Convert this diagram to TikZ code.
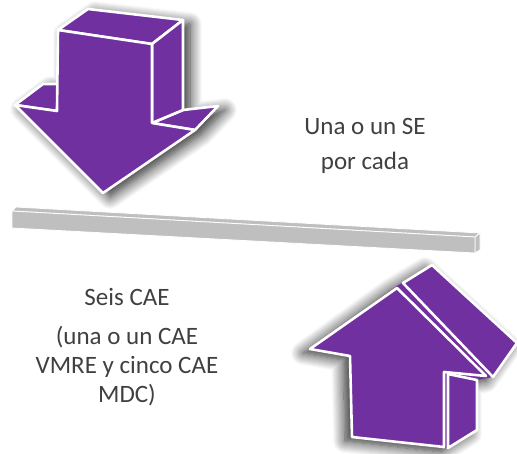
\documentclass[tikz,border=0pt]{standalone}
\usepackage{fontspec}
\setmainfont{Carlito}
\usetikzlibrary{shadows.blur}
\definecolor{lila}{RGB}{112,48,160}
\definecolor{barra}{RGB}{191,191,191}
\definecolor{texto}{RGB}{64,64,64}

\begin{document}
\begin{tikzpicture}[
x=1pt,y=-1pt,
cara/.style={
fill=lila,
draw=white,
line width=2.6pt,
line join=round
},
cbarra/.style={
fill=barra,
draw=white,
line width=0.8pt,
line join=round
},
sombra/.style={
fill=lila,
blur shadow={shadow blur steps=12,shadow xshift=#1,shadow yshift=-4pt,shadow opacity=85,shadow blur radius=12pt}
},
every node/.style={
text=texto,
font=\fontsize{25}{29}\selectfont,
align=center,
inner sep=0pt
}
]

\useasboundingbox (0,0) rectangle (517,453);

% flecha hacia abajo
\path[sombra=7pt] (58,30) -- (88,9) -- (183,20) -- (183,110) -- (218,106)
  -- (195,130) -- (103,193) -- (15,105) -- (43,84) -- (58,84) -- cycle;
\draw[cara] (15,105) -- (43,84) -- (58,84) -- (57,111) -- cycle;
\draw[cara] (152,123) -- (183,110) -- (218,106) -- (195,130) -- cycle;
\draw[cara] (58,30) -- (88,9) -- (183,20) -- (152,44) -- cycle;
\draw[cara] (152,44) -- (183,20) -- (183,110) -- (152,123) -- cycle;
\draw[cara] (58,30) -- (152,44) -- (152,123) -- (195,130) -- (103,193)
  -- (15,105) -- (57,111) -- cycle;

% barra
\draw[cbarra] (12,211) -- (16,207) -- (480,233) -- (475,237) -- cycle;
\draw[cbarra] (475,237) -- (480,233) -- (480,250) -- (475,253) -- cycle;
\draw[cbarra] (12,211) -- (475,237) -- (475,253) -- (12,228) -- cycle;

% flecha hacia arriba
\path[sombra=-7pt] (310,349) -- (397,286) -- (432,265) -- (517,343) -- (493,377)
  -- (477,380) -- (477,430) -- (448,448) -- (352,437) -- (350,356) -- cycle;
\draw[cara] (403,283) -- (432,265) -- (517,343) -- (493,377) -- cycle;
\draw[cara] (448,374) -- (477,380) -- (477,430) -- (448,448) -- cycle;
\draw[cara] (310,349) -- (397,288) -- (486,376) -- (444,372) -- (444,447)
  -- (352,437) -- (350,356) -- cycle;

\node[anchor=base] (SE)
at (365,169)
{Una o un SE\\[6pt]por cada};

\node[anchor=base] (CAE)
at (127,305)
{Seis CAE};

\node[anchor=base] (detalle)
at (127,402)
{(una o un CAE\\VMRE y cinco CAE\\MDC)};

\end{tikzpicture}
\end{document}
